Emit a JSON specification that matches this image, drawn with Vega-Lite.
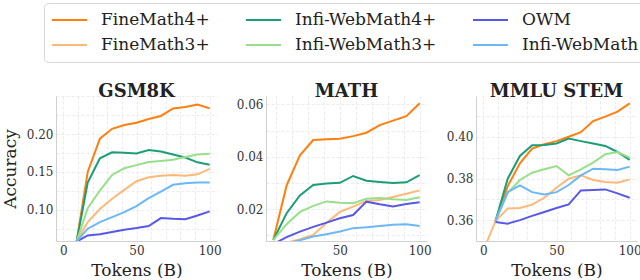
{
"$schema": "https://vega.github.io/schema/vega-lite/v6.json",
"padding": {"left": 1, "top": 2, "right": 3, "bottom": 0},
"bounds": "flush",
"spacing": 49,
"config": {
  "font": "DejaVu Serif",
  "view": {"stroke": null},
  "axis": {"domainColor": "#d0d0d0", "ticks": false, "labelFontSize": 12, "labelColor": "#333", "labelFont": "DejaVu Serif", "titleFont": "DejaVu Serif", "titleFontSize": 17, "titleFontWeight": "normal", "titleColor": "#222", "gridColor": "#e6e6e6", "gridDash": [3, 2], "gridWidth": 0.8},
  "axisX": {"labelPadding": 4, "titlePadding": 6},
  "axisY": {"labelPadding": 3, "titlePadding": 7},
  "title": {"fontSize": 18, "fontWeight": "bold", "color": "#222", "offset": -5, "font": "DejaVu Serif"}
},
"datasets": {
  "gsm": [
    {"s":"FineMath4+","x":8.33,"y":0.049},{"s":"FineMath4+","x":16.67,"y":0.150},{"s":"FineMath4+","x":25,"y":0.194},{"s":"FineMath4+","x":33.33,"y":0.207},{"s":"FineMath4+","x":41.67,"y":0.212},{"s":"FineMath4+","x":50,"y":0.215},{"s":"FineMath4+","x":58.33,"y":0.220},{"s":"FineMath4+","x":66.67,"y":0.224},{"s":"FineMath4+","x":75,"y":0.234},{"s":"FineMath4+","x":83.33,"y":0.236},{"s":"FineMath4+","x":91.67,"y":0.239},{"s":"FineMath4+","x":100,"y":0.234},
    {"s":"FineMath3+","x":8.33,"y":0.0554},{"s":"FineMath3+","x":16.67,"y":0.0837},{"s":"FineMath3+","x":25,"y":0.101},{"s":"FineMath3+","x":33.33,"y":0.1145},{"s":"FineMath3+","x":41.67,"y":0.1263},{"s":"FineMath3+","x":50,"y":0.1377},{"s":"FineMath3+","x":58.33,"y":0.143},{"s":"FineMath3+","x":66.67,"y":0.145},{"s":"FineMath3+","x":75,"y":0.146},{"s":"FineMath3+","x":83.33,"y":0.145},{"s":"FineMath3+","x":91.67,"y":0.1468},{"s":"FineMath3+","x":100,"y":0.154},
    {"s":"Infi-WebMath4+","x":8.33,"y":0.050},{"s":"Infi-WebMath4+","x":16.67,"y":0.136},{"s":"Infi-WebMath4+","x":25,"y":0.168},{"s":"Infi-WebMath4+","x":33.33,"y":0.176},{"s":"Infi-WebMath4+","x":41.67,"y":0.1754},{"s":"Infi-WebMath4+","x":50,"y":0.1745},{"s":"Infi-WebMath4+","x":58.33,"y":0.179},{"s":"Infi-WebMath4+","x":66.67,"y":0.177},{"s":"Infi-WebMath4+","x":75,"y":0.173},{"s":"Infi-WebMath4+","x":83.33,"y":0.169},{"s":"Infi-WebMath4+","x":91.67,"y":0.1627},{"s":"Infi-WebMath4+","x":100,"y":0.1596},
    {"s":"Infi-WebMath3+","x":8.33,"y":0.0535},{"s":"Infi-WebMath3+","x":16.67,"y":0.102},{"s":"Infi-WebMath3+","x":25,"y":0.1254},{"s":"Infi-WebMath3+","x":33.33,"y":0.146},{"s":"Infi-WebMath3+","x":41.67,"y":0.1548},{"s":"Infi-WebMath3+","x":50,"y":0.159},{"s":"Infi-WebMath3+","x":58.33,"y":0.163},{"s":"Infi-WebMath3+","x":66.67,"y":0.1645},{"s":"Infi-WebMath3+","x":75,"y":0.166},{"s":"Infi-WebMath3+","x":83.33,"y":0.1697},{"s":"Infi-WebMath3+","x":91.67,"y":0.173},{"s":"Infi-WebMath3+","x":100,"y":0.174},
    {"s":"OWM","x":8.33,"y":0.0572},{"s":"OWM","x":16.67,"y":0.066},{"s":"OWM","x":25,"y":0.0675},{"s":"OWM","x":33.33,"y":0.0705},{"s":"OWM","x":41.67,"y":0.0736},{"s":"OWM","x":50,"y":0.0758},{"s":"OWM","x":58.33,"y":0.0784},{"s":"OWM","x":66.67,"y":0.089},{"s":"OWM","x":75,"y":0.088},{"s":"OWM","x":83.33,"y":0.0874},{"s":"OWM","x":91.67,"y":0.0925},{"s":"OWM","x":100,"y":0.0978},
    {"s":"Infi-WebMath","x":8.33,"y":0.0563},{"s":"Infi-WebMath","x":16.67,"y":0.075},{"s":"Infi-WebMath","x":25,"y":0.0837},{"s":"Infi-WebMath","x":33.33,"y":0.0903},{"s":"Infi-WebMath","x":41.67,"y":0.0969},{"s":"Infi-WebMath","x":50,"y":0.1047},{"s":"Infi-WebMath","x":58.33,"y":0.1153},{"s":"Infi-WebMath","x":66.67,"y":0.124},{"s":"Infi-WebMath","x":75,"y":0.133},{"s":"Infi-WebMath","x":83.33,"y":0.135},{"s":"Infi-WebMath","x":91.67,"y":0.136},{"s":"Infi-WebMath","x":100,"y":0.136}
  ],
  "math": [
    {"s":"FineMath4+","x":8.33,"y":0.0083},{"s":"FineMath4+","x":16.67,"y":0.0291},{"s":"FineMath4+","x":25,"y":0.0406},{"s":"FineMath4+","x":33.33,"y":0.0464},{"s":"FineMath4+","x":41.67,"y":0.0467},{"s":"FineMath4+","x":50,"y":0.0469},{"s":"FineMath4+","x":58.33,"y":0.0479},{"s":"FineMath4+","x":66.67,"y":0.0492},{"s":"FineMath4+","x":75,"y":0.0521},{"s":"FineMath4+","x":83.33,"y":0.0538},{"s":"FineMath4+","x":91.67,"y":0.0555},{"s":"FineMath4+","x":100,"y":0.0604},
    {"s":"FineMath3+","x":8.33,"y":0.0060},{"s":"FineMath3+","x":16.67,"y":0.0072},{"s":"FineMath3+","x":25,"y":0.0086},{"s":"FineMath3+","x":33.33,"y":0.0102},{"s":"FineMath3+","x":41.67,"y":0.0149},{"s":"FineMath3+","x":50,"y":0.0190},{"s":"FineMath3+","x":58.33,"y":0.0210},{"s":"FineMath3+","x":66.67,"y":0.0232},{"s":"FineMath3+","x":75,"y":0.0235},{"s":"FineMath3+","x":83.33,"y":0.0247},{"s":"FineMath3+","x":91.67,"y":0.0259},{"s":"FineMath3+","x":100,"y":0.0272},
    {"s":"Infi-WebMath4+","x":8.33,"y":0.0083},{"s":"Infi-WebMath4+","x":16.67,"y":0.0185},{"s":"Infi-WebMath4+","x":25,"y":0.0253},{"s":"Infi-WebMath4+","x":33.33,"y":0.0293},{"s":"Infi-WebMath4+","x":41.67,"y":0.0298},{"s":"Infi-WebMath4+","x":50,"y":0.0301},{"s":"Infi-WebMath4+","x":58.33,"y":0.0327},{"s":"Infi-WebMath4+","x":66.67,"y":0.0309},{"s":"Infi-WebMath4+","x":75,"y":0.0304},{"s":"Infi-WebMath4+","x":83.33,"y":0.0300},{"s":"Infi-WebMath4+","x":91.67,"y":0.0303},{"s":"Infi-WebMath4+","x":100,"y":0.0330},
    {"s":"Infi-WebMath3+","x":8.33,"y":0.0083},{"s":"Infi-WebMath3+","x":16.67,"y":0.0143},{"s":"Infi-WebMath3+","x":25,"y":0.0190},{"s":"Infi-WebMath3+","x":33.33,"y":0.0213},{"s":"Infi-WebMath3+","x":41.67,"y":0.0230},{"s":"Infi-WebMath3+","x":50,"y":0.0225},{"s":"Infi-WebMath3+","x":58.33,"y":0.0223},{"s":"Infi-WebMath3+","x":66.67,"y":0.0240},{"s":"Infi-WebMath3+","x":75,"y":0.0243},{"s":"Infi-WebMath3+","x":83.33,"y":0.0238},{"s":"Infi-WebMath3+","x":91.67,"y":0.0235},{"s":"Infi-WebMath3+","x":100,"y":0.0246},
    {"s":"OWM","x":8.33,"y":0.0067},{"s":"OWM","x":16.67,"y":0.0094},{"s":"OWM","x":25,"y":0.0115},{"s":"OWM","x":33.33,"y":0.0133},{"s":"OWM","x":41.67,"y":0.0149},{"s":"OWM","x":50,"y":0.0166},{"s":"OWM","x":58.33,"y":0.0178},{"s":"OWM","x":66.67,"y":0.0229},{"s":"OWM","x":75,"y":0.0219},{"s":"OWM","x":83.33,"y":0.0211},{"s":"OWM","x":91.67,"y":0.0220},{"s":"OWM","x":100,"y":0.0227},
    {"s":"Infi-WebMath","x":8.33,"y":0.0060},{"s":"Infi-WebMath","x":16.67,"y":0.0070},{"s":"Infi-WebMath","x":25,"y":0.0082},{"s":"Infi-WebMath","x":33.33,"y":0.0096},{"s":"Infi-WebMath","x":41.67,"y":0.0105},{"s":"Infi-WebMath","x":50,"y":0.0115},{"s":"Infi-WebMath","x":58.33,"y":0.0128},{"s":"Infi-WebMath","x":66.67,"y":0.0131},{"s":"Infi-WebMath","x":75,"y":0.0136},{"s":"Infi-WebMath","x":83.33,"y":0.0141},{"s":"Infi-WebMath","x":91.67,"y":0.0143},{"s":"Infi-WebMath","x":100,"y":0.0136}
  ],
  "mmlu": [
    {"s":"FineMath4+","x":8.33,"y":0.3597},{"s":"FineMath4+","x":16.67,"y":0.3764},{"s":"FineMath4+","x":25,"y":0.3873},{"s":"FineMath4+","x":33.33,"y":0.3943},{"s":"FineMath4+","x":41.67,"y":0.3964},{"s":"FineMath4+","x":50,"y":0.3979},{"s":"FineMath4+","x":58.33,"y":0.4000},{"s":"FineMath4+","x":66.67,"y":0.4022},{"s":"FineMath4+","x":75,"y":0.4075},{"s":"FineMath4+","x":83.33,"y":0.4096},{"s":"FineMath4+","x":91.67,"y":0.4120},{"s":"FineMath4+","x":100,"y":0.4160},
    {"s":"FineMath3+","x":0,"y":0.3455},{"s":"FineMath3+","x":8.33,"y":0.3597},{"s":"FineMath3+","x":16.67,"y":0.3657},{"s":"FineMath3+","x":25,"y":0.3659},{"s":"FineMath3+","x":33.33,"y":0.3675},{"s":"FineMath3+","x":41.67,"y":0.3708},{"s":"FineMath3+","x":50,"y":0.3756},{"s":"FineMath3+","x":58.33,"y":0.3799},{"s":"FineMath3+","x":66.67,"y":0.3815},{"s":"FineMath3+","x":75,"y":0.3793},{"s":"FineMath3+","x":83.33,"y":0.3783},{"s":"FineMath3+","x":91.67,"y":0.3780},{"s":"FineMath3+","x":100,"y":0.3796},
    {"s":"Infi-WebMath4+","x":8.33,"y":0.3597},{"s":"Infi-WebMath4+","x":16.67,"y":0.3799},{"s":"Infi-WebMath4+","x":25,"y":0.3908},{"s":"Infi-WebMath4+","x":33.33,"y":0.3959},{"s":"Infi-WebMath4+","x":41.67,"y":0.3960},{"s":"Infi-WebMath4+","x":50,"y":0.3968},{"s":"Infi-WebMath4+","x":58.33,"y":0.3991},{"s":"Infi-WebMath4+","x":66.67,"y":0.3979},{"s":"Infi-WebMath4+","x":75,"y":0.3968},{"s":"Infi-WebMath4+","x":83.33,"y":0.3956},{"s":"Infi-WebMath4+","x":91.67,"y":0.3927},{"s":"Infi-WebMath4+","x":100,"y":0.3889},
    {"s":"Infi-WebMath3+","x":8.33,"y":0.3597},{"s":"Infi-WebMath3+","x":16.67,"y":0.3732},{"s":"Infi-WebMath3+","x":25,"y":0.3793},{"s":"Infi-WebMath3+","x":33.33,"y":0.3828},{"s":"Infi-WebMath3+","x":41.67,"y":0.3844},{"s":"Infi-WebMath3+","x":50,"y":0.3860},{"s":"Infi-WebMath3+","x":58.33,"y":0.3815},{"s":"Infi-WebMath3+","x":66.67,"y":0.3844},{"s":"Infi-WebMath3+","x":75,"y":0.3876},{"s":"Infi-WebMath3+","x":83.33,"y":0.3916},{"s":"Infi-WebMath3+","x":91.67,"y":0.3927},{"s":"Infi-WebMath3+","x":100,"y":0.3900},
    {"s":"OWM","x":8.33,"y":0.3592},{"s":"OWM","x":16.67,"y":0.3584},{"s":"OWM","x":25,"y":0.3601},{"s":"OWM","x":33.33,"y":0.3621},{"s":"OWM","x":41.67,"y":0.3640},{"s":"OWM","x":50,"y":0.3659},{"s":"OWM","x":58.33,"y":0.3676},{"s":"OWM","x":66.67,"y":0.3743},{"s":"OWM","x":75,"y":0.3745},{"s":"OWM","x":83.33,"y":0.3748},{"s":"OWM","x":91.67,"y":0.3729},{"s":"OWM","x":100,"y":0.3708},
    {"s":"Infi-WebMath","x":8.33,"y":0.3597},{"s":"Infi-WebMath","x":16.67,"y":0.3735},{"s":"Infi-WebMath","x":25,"y":0.3767},{"s":"Infi-WebMath","x":33.33,"y":0.3735},{"s":"Infi-WebMath","x":41.67,"y":0.3724},{"s":"Infi-WebMath","x":50,"y":0.3735},{"s":"Infi-WebMath","x":58.33,"y":0.3769},{"s":"Infi-WebMath","x":66.67,"y":0.3815},{"s":"Infi-WebMath","x":75,"y":0.3847},{"s":"Infi-WebMath","x":83.33,"y":0.3844},{"s":"Infi-WebMath","x":91.67,"y":0.3841},{"s":"Infi-WebMath","x":100,"y":0.3857}
  ]
},
"hconcat": [
  {
    "width": 161, "height": 145,
    "title": {"text": "GSM8K"},
    "data": {"name": "gsm"},
    "mark": {"type": "line", "strokeWidth": 2, "clip": true},
    "encoding": {
      "x": {"field": "x", "type": "quantitative", "scale": {"domain": [-5, 105], "nice": false, "zero": false},
            "axis": {"title": "Tokens (B)", "values": [0, 10, 20, 30, 40, 50, 60, 70, 80, 90, 100], "labelExpr": "datum.value % 50 === 0 ? datum.label : ''"}},
      "y": {"field": "y", "type": "quantitative", "scale": {"domain": [0.0587, 0.2504], "nice": false, "zero": false},
            "axis": {"title": "Accuracy", "format": ".2f", "values": [0.075, 0.1, 0.125, 0.15, 0.175, 0.2, 0.225, 0.25], "labelExpr": "abs(datum.value * 20 - round(datum.value * 20)) < 0.001 && datum.value < 0.24 ? datum.label : ''"}},
      "color": {"field": "s", "type": "nominal",
                "scale": {"domain": ["FineMath4+", "FineMath3+", "Infi-WebMath4+", "Infi-WebMath3+", "OWM", "Infi-WebMath"], "range": ["#ff7f0e", "#ffb877", "#1b9e77", "#98df8a", "#5858e8", "#6cb8f6"]},
                "legend": {"orient": "none", "legendX": -12, "legendY": -93, "columns": 3, "title": null, "symbolType": "stroke", "symbolSize": 1225, "symbolStrokeWidth": 2, "clipHeight": 20, "rowPadding": 5, "columnPadding": 35, "labelOffset": 13, "labelFontSize": 17, "labelFont": "DejaVu Serif", "labelColor": "#222", "padding": 7, "strokeColor": "#d8d8d8", "cornerRadius": 4, "fillColor": "white"}}
    }
  },
  {
    "width": 161, "height": 145,
    "title": {"text": "MATH"},
    "data": {"name": "math"},
    "mark": {"type": "line", "strokeWidth": 2, "clip": true},
    "encoding": {
      "x": {"field": "x", "type": "quantitative", "scale": {"domain": [3.75, 104.6], "nice": false, "zero": false},
            "axis": {"title": "Tokens (B)", "values": [10, 20, 30, 40, 50, 60, 70, 80, 90, 100], "labelExpr": "datum.value % 50 === 0 ? datum.label : ''"}},
      "y": {"field": "y", "type": "quantitative", "scale": {"domain": [0.0079, 0.0632], "nice": false, "zero": false},
            "axis": {"title": null, "format": ".2f", "values": [0.01, 0.02, 0.03, 0.04, 0.05, 0.06], "labelExpr": "abs(datum.value * 50 - round(datum.value * 50)) < 0.001 ? datum.label : ''"}},
      "color": {"field": "s", "type": "nominal"}
    }
  },
  {
    "width": 161, "height": 145,
    "title": {"text": "MMLU STEM"},
    "data": {"name": "mmlu"},
    "mark": {"type": "line", "strokeWidth": 2, "clip": true},
    "encoding": {
      "x": {"field": "x", "type": "quantitative", "scale": {"domain": [-5, 105], "nice": false, "zero": false},
            "axis": {"title": "Tokens (B)", "values": [0, 10, 20, 30, 40, 50, 60, 70, 80, 90, 100], "labelExpr": "datum.value % 50 === 0 ? datum.label : ''"}},
      "y": {"field": "y", "type": "quantitative", "scale": {"domain": [0.3501, 0.4195], "nice": false, "zero": false},
            "axis": {"title": null, "format": ".2f", "values": [0.36, 0.37, 0.38, 0.39, 0.40, 0.41], "labelExpr": "abs(datum.value * 50 - round(datum.value * 50)) < 0.001 ? datum.label : ''"}},
      "color": {"field": "s", "type": "nominal"}
    }
  }
]
}
